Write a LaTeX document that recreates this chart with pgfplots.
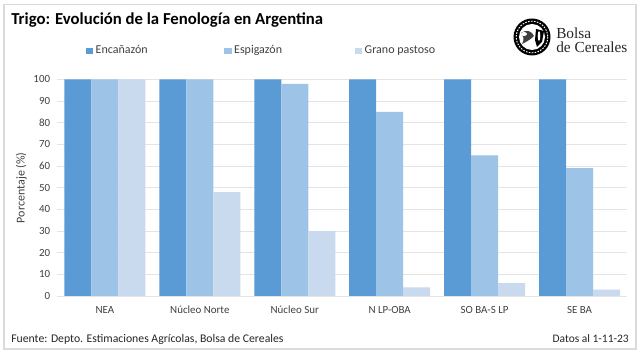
\documentclass[border=0pt]{standalone}
\usepackage{fontspec}
\setmainfont{Carlito}
\newfontfamily\logofont{Liberation Serif}
\usepackage{pgfplots}
\pgfplotsset{compat=1.18}
\definecolor{cA}{HTML}{5B9BD5}
\definecolor{cB}{HTML}{9DC3E6}
\definecolor{cC}{HTML}{C9D9EE}
\definecolor{txt}{HTML}{404040}
\definecolor{gridc}{HTML}{E4E4E4}
\begin{document}
\begin{tikzpicture}[x=0.75pt,y=-0.75pt]
\path[fill=white] (0,0) rectangle (640,352);
\draw[color=black!14,line width=0.8pt] (4,4.5) rectangle (636,349);
\begin{axis}[
  at={(43.125pt,-222pt)},anchor=south west,
  scale only axis,width=427.1pt,height=162.4pt,
  xmin=-0.5,xmax=5.5,ymin=0,ymax=100,
  axis x line=none,axis y line*=left,axis line style={draw=none},
  ytick={0,10,...,100},major tick length=0pt,
  ymajorgrids,grid style={draw=gridc,line width=0.6pt},
  y tick label style={font=\fontsize{8.2}{10}\selectfont,text=txt,xshift=-2pt},
  yticklabel style={/pgf/number format/assume math mode=true},
  ylabel={Porcentaje (\%)},
  ylabel style={font=\fontsize{9}{10}\selectfont,text=txt,yshift=-1.8pt},
]
\end{axis}
\begin{axis}[
  at={(43.125pt,-222pt)},anchor=south west,
  scale only axis,width=427.1pt,height=162.4pt,
  xmin=-0.5,xmax=5.5,ymin=0,ymax=100,
  ybar=0pt,bar width=20.25pt,
  axis x line*=bottom,axis y line=none,
  xtick=data,xticklabels={NEA,Núcleo Norte,Núcleo Sur,N LP-OBA,SO BA-S LP,SE BA},
  x tick label style={font=\fontsize{8.2}{10}\selectfont,text=txt,yshift=-4pt},
  major tick length=0pt,
  axis line style={draw=gridc},
  clip=false,
  legend style={at={(0.0492,1.133)},anchor=west,draw=none,fill=none,font=\fontsize{9}{10}\selectfont,
    legend columns=3,/tikz/every even column/.style={column sep=0pt},inner sep=0pt,
    text=txt},
  legend image code/.code={\fill[#1] (0pt,-2.3pt) rectangle (5.4pt,2.3pt);},
]
\addplot[draw=none,fill=cA] coordinates {(0,100)(1,100)(2,100)(3,100)(4,100)(5,100)};
\addplot[draw=none,fill=cB] coordinates {(0,100)(1,100)(2,98)(3,85)(4,65)(5,59)};
\addplot[draw=none,fill=cC] coordinates {(0,100)(1,48)(2,30)(3,4)(4,6)(5,3)};
\legend{\makebox[94.5pt][l]{Encañazón},\makebox[88.5pt][l]{Espigazón},Grano pastoso}
\end{axis}
\node[anchor=west,inner sep=0pt,font=\bfseries\fontsize{12.55}{14}\selectfont] at (11,20) {Trigo: Evolución de la Fenología en Argentina};
\node[anchor=west,inner sep=0pt,font=\fontsize{8.8}{10}\selectfont,text=black!85] at (11,339) {Fuente: Depto. Estimaciones Agrícolas, Bolsa de Cereales};
\node[anchor=east,inner sep=0pt,font=\fontsize{8.6}{10}\selectfont,text=black!85] at (629,339) {Datos al 1-11-23};
\fill[black] (532,37) circle (18.5);
\draw[white,line width=0.7pt,dash pattern=on 1.2pt off 1pt] (532,37) circle (15.8);
\fill[white] (532,37) circle (13);
\fill[black!75] (521,33) .. controls (526,29) and (532,31) .. (534,36) .. controls (530,40) and (526,42) .. (522,44) .. controls (525,39) and (523,36) .. (521,33) -- cycle;
\fill[white] (524,34) ellipse (3 and 2);
\fill[black] (536,29) -- (544,31) -- (542,42) -- (537,47) -- (535,40) -- cycle;
\fill[white] (539,36) ellipse (1.3 and 5);
\node[anchor=west,align=left,inner sep=0pt,font=\logofont\fontsize{11.5}{10.5}\selectfont,text=black!85] at (556,40) {Bolsa\\de Cereales};
\end{tikzpicture}
\end{document}
